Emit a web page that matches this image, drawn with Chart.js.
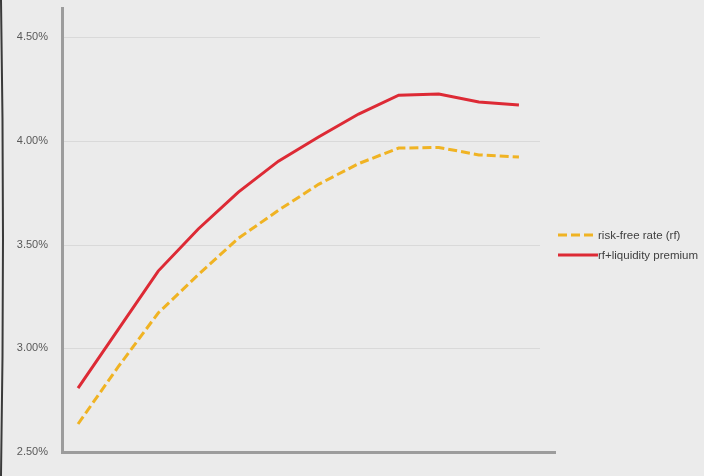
<!DOCTYPE html>
<html>
<head>
<meta charset="utf-8">
<script src="https://cdn.jsdelivr.net/npm/chart.js@4/dist/chart.umd.min.js"></script>
<style>
  html, body { margin: 0; padding: 0; background: #ebebeb; }
  #wrap { position: relative; width: 704px; height: 476px; overflow: hidden; }
  #legend { position: absolute; left: 558px; top: 225px; font: 11.5px "Liberation Sans", Arial, sans-serif; color: #404040; }
  .row { display: flex; align-items: center; height: 20px; white-space: nowrap; }
  .row svg { width: 40px; height: 6px; }
</style>
</head>
<body>
<div id="wrap">
  <canvas id="curve" width="704" height="476"></canvas>
  <div id="legend">
    <div class="row"><svg><line x1="0" y1="3" x2="38" y2="3" stroke="#f0b323" stroke-width="3" stroke-dasharray="9 4"/></svg><span>risk-free rate (rf)</span></div>
    <div class="row"><svg><line x1="0" y1="3" x2="40" y2="3" stroke="#dd2a35" stroke-width="3"/></svg><span>rf+liquidity premium</span></div>
  </div>
</div>
<script>
// yield curves, values in %
const maturities = [1, 2, 3, 4, 5, 6, 7, 8, 9, 10, 11, 12];
const riskFree = [2.635, 2.91, 3.17, 3.355, 3.53, 3.665, 3.79, 3.89, 3.965, 3.968, 3.932, 3.922];
const withPremium = [2.808, 3.09, 3.372, 3.575, 3.753, 3.902, 4.018, 4.129, 4.22, 4.225, 4.187, 4.172];
const yTicks = [2.5, 3.0, 3.5, 4.0, 4.5];

// torn-page edge on the left
const edgePlugin = {
  id: 'edge',
  beforeDraw(chart) {
    const ctx = chart.ctx;
    ctx.save();
    ctx.strokeStyle = '#3a3a3a';
    ctx.lineWidth = 2;
    ctx.beginPath();
    ctx.moveTo(1, 0);
    ctx.quadraticCurveTo(5, 238, 1, 476);
    ctx.stroke();
    ctx.restore();
  }
};

// gridlines stop a bit short of the x axis end
const gridPlugin = {
  id: 'shortGrid',
  beforeDatasetsDraw(chart) {
    const { ctx, chartArea, scales } = chart;
    ctx.save();
    ctx.strokeStyle = '#d9d9d9';
    ctx.lineWidth = 1;
    yTicks.slice(1).forEach((v) => {
      const y = Math.round(scales.y.getPixelForValue(v)) + 0.5;
      ctx.beginPath();
      ctx.moveTo(chartArea.left + 2, y);
      ctx.lineTo(chartArea.right - 15, y);
      ctx.stroke();
    });
    ctx.restore();
  }
};

const toPts = (vals) => vals.map((v, i) => ({ x: maturities[i], y: v }));

new Chart(document.getElementById('curve'), {
  type: 'line',
  data: {
    datasets: [
      {
        label: 'risk-free rate (rf)',
        data: toPts(riskFree),
        borderColor: '#f0b323',
        borderWidth: 3,
        borderDash: [9, 4],
        pointRadius: 0,
        tension: 0,
      },
      {
        label: 'rf+liquidity premium',
        data: toPts(withPremium),
        borderColor: '#dd2a35',
        borderWidth: 3,
        pointRadius: 0,
        tension: 0,
      },
    ],
  },
  options: {
    responsive: false,
    animation: false,
    layout: { padding: { top: 8, right: 149, bottom: 24, left: 0 } },
    plugins: { legend: { display: false }, tooltip: { enabled: false } },
    scales: {
      x: {
        type: 'linear',
        min: 0.6,
        max: 12.9,
        ticks: { display: false },
        grid: { display: false },
        border: { display: true, color: '#9c9c9c', width: 3 },
        afterFit: (s) => { s.height = 0; },
      },
      y: {
        min: 2.5,
        max: 4.64,
        afterBuildTicks: (s) => { s.ticks = yTicks.map((v) => ({ value: v })); },
        ticks: {
          color: '#595959',
          font: { family: 'Liberation Sans', size: 11 },
          padding: 14,
          callback: (v) => v.toFixed(2) + '%',
        },
        grid: { color: 'rgba(0,0,0,0)', drawTicks: false },
        border: { display: true, color: '#9c9c9c', width: 3 },
        afterFit: (s) => { s.width = 62; s.paddingTop = 0; s.paddingBottom = 0; },
      },
    },
  },
  plugins: [edgePlugin, gridPlugin],
});
</script>
</body>
</html>
